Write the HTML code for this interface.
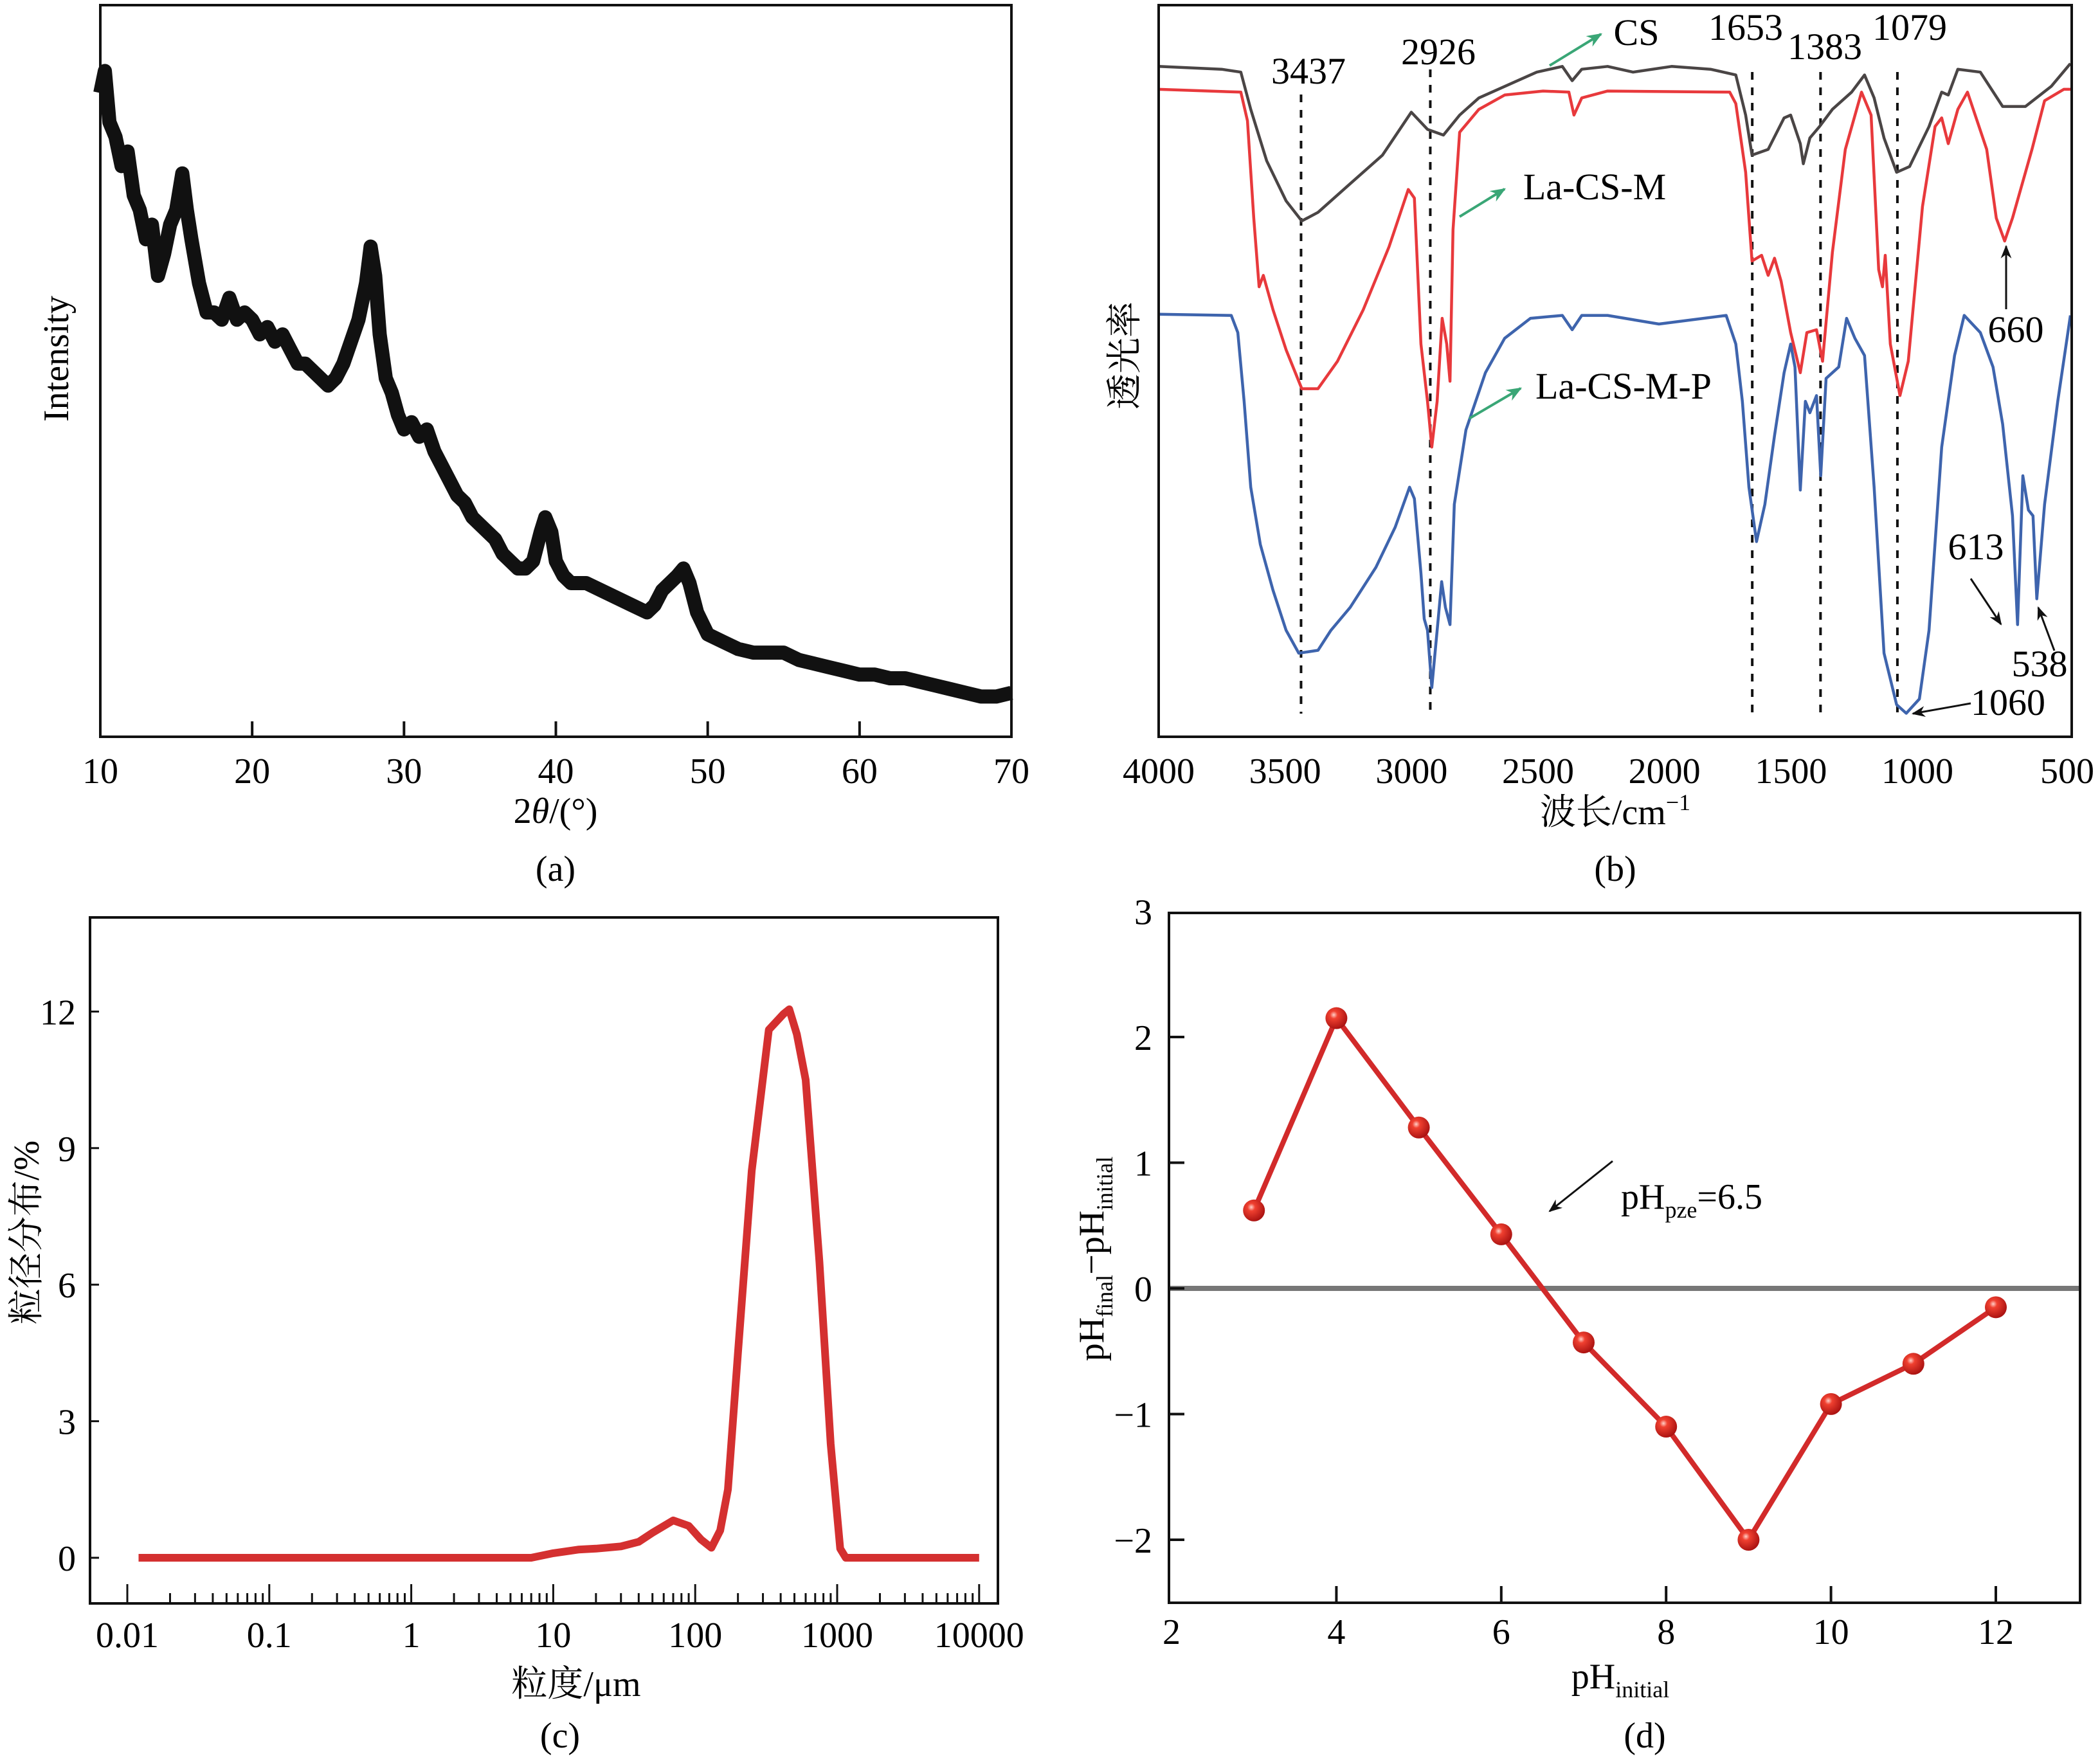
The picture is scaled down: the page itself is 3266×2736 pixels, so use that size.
<!DOCTYPE html>
<html><head><meta charset="utf-8"><style>
html,body{margin:0;padding:0;background:#fff;}
svg{display:block;font-family:"Liberation Serif","Noto Serif CJK SC",serif;}
</style></head><body>
<svg id="fig" width="3266" height="2736" viewBox="0 0 3266 2736" xmlns="http://www.w3.org/2000/svg">
<defs>
<radialGradient id="ball" cx="0.38" cy="0.35" r="0.7">
<stop offset="0" stop-color="#ffd0c8"/><stop offset="0.25" stop-color="#f04030"/><stop offset="1" stop-color="#a50f0f"/>
</radialGradient>
<marker id="ah" viewBox="0 0 10 10" refX="9" refY="5" markerWidth="7" markerHeight="7" orient="auto"><path d="M0,1 L10,5 L0,9 L3,5 z" fill="#111"/></marker>
<marker id="ahg" viewBox="0 0 10 10" refX="9" refY="5" markerWidth="6" markerHeight="6" orient="auto"><path d="M0,1 L10,5 L0,9 L3,5 z" fill="#3aa676"/></marker>
</defs>
<g id="pa"></g>
<g id="pb"></g>
<g id="pc"></g>
<g id="pd"></g>
</svg>
<script>
// ---------- Panel (a) data ----------
const xrdAngle=[10,10.3,10.6,11,11.4,11.8,12.2,12.6,13,13.4,13.8,14.2,14.6,15,15.4,15.7,16,16.5,17,17.5,18,18.5,19,19.5,20,20.5,21,21.5,22,22.5,23,23.5,24,24.5,25,25.5,26,26.5,27,27.5,27.8,28.1,28.4,28.8,29.2,29.6,30,30.5,31,31.5,32,32.5,33,33.5,34,34.5,35,35.5,36,36.5,37,37.5,38,38.5,39,39.3,39.7,40,40.5,41,42,43,44,45,46,46.5,47,47.5,48,48.4,48.8,49.3,50,51,52,53,54,55,56,57,58,59,60,61,62,63,64,65,66,67,68,69,70];
const xrdIntensity=[88,91,84,82,78,80,74,72,68,70,63,66,70,72,77,72,68,62,58,58,57,60,57,58,57,55,56,54,55,53,51,51,50,49,48,49,51,54,57,62,67,63,55,49,47,44,42,43,41,42,39,37,35,33,32,30,29,28,27,25,24,23,23,24,28,30,28,24,22,21,21,20,19,18,17,18,20,21,22,23,21,17,14,13,12,11.5,11.5,11.5,10.5,10,9.5,9,8.5,8.5,8,8,7.5,7,6.5,6,5.5,5.5,6];
const xrdTicks=[10,20,30,40,50,60,70];

// ---------- Panel (b) data ----------
const csWave=[4000,3751,3675,3636,3573,3496,3434,3370,3243,3115,3001,2937,2874,2810,2734,2632,2505,2404,2365,2327,2225,2124,1972,1818,1718,1679,1654,1590,1527,1501,1463,1451,1425,1387,1336,1260,1209,1171,1132,1082,1031,954,904,878,840,751,663,573,471,395];
const csT=[1171,1166,1161,1096,1006,936,901,916,966,1016,1091,1061,1051,1086,1116,1136,1161,1171,1146,1166,1171,1161,1171,1166,1156,1086,1016,1026,1081,1086,1036,1001,1046,1066,1096,1126,1156,1116,1046,986,996,1066,1126,1121,1166,1161,1101,1101,1136,1176];
const mWave=[4000,3675,3649,3624,3603,3586,3548,3496,3434,3370,3293,3191,3089,3013,2989,2963,2937,2920,2899,2879,2861,2848,2836,2810,2734,2632,2480,2378,2358,2327,2225,1742,1718,1679,1654,1616,1590,1565,1539,1501,1463,1437,1399,1375,1336,1285,1221,1183,1153,1138,1127,1107,1069,1036,980,930,904,878,840,802,726,688,655,624,547,497,421,395];
const mT=[1131,1126,1076,906,786,806,746,676,608,608,656,746,856,956,941,686,586,506,586,731,686,621,886,1056,1096,1121,1128,1126,1086,1116,1128,1126,1106,986,831,841,806,836,796,706,636,706,711,656,846,1026,1126,1086,816,786,841,686,596,656,926,1066,1081,1036,1096,1126,1026,906,866,906,1026,1111,1131,1131];
const pWave=[4000,3713,3687,3662,3636,3598,3548,3496,3446,3370,3319,3243,3141,3065,3008,2989,2963,2950,2937,2920,2899,2881,2866,2848,2831,2785,2708,2632,2530,2404,2365,2327,2225,2022,1756,1718,1692,1666,1636,1603,1565,1527,1501,1484,1463,1443,1425,1399,1382,1361,1311,1280,1247,1209,1171,1132,1082,1044,992,954,904,853,815,751,701,663,624,604,583,561,543,528,497,445,395];
const pT=[738,736,706,586,436,336,256,186,146,151,186,226,296,366,436,416,286,206,186,86,186,271,226,196,406,536,636,696,731,736,711,736,736,721,736,686,586,436,341,406,526,636,686,646,431,586,566,596,456,626,646,731,696,666,436,146,56,41,66,186,506,666,736,706,646,546,386,196,456,396,386,241,406,586,736];
const irPeaks=[3437,2926,1653,1383,1079];
const irTicks=[4000,3500,3000,2500,2000,1500,1000,500];

// ---------- Panel (c) data ----------
const psdSize=[0.012,0.1,1,7,10,15,20,30,40,50,70,90,110,130,150,170,200,250,330,420,460,520,600,750,900,1050,1150,2000,10000];
const psdPct=[0,0,0,0,0.1,0.18,0.2,0.25,0.35,0.55,0.82,0.7,0.4,0.22,0.6,1.5,4.5,8.5,11.6,11.95,12.05,11.5,10.5,6.5,2.5,0.2,0,0,0];
const psdYTicks=[0,3,6,9,12];
const psdXTicks=[0.01,0.1,1,10,100,1000,10000];
const psdXLabels=["0.01","0.1","1","10","100","1000","10000"];

// ---------- Panel (d) data ----------
const phInitial=[3,4,5,6,7,8,9,10,11,12];
const phDelta=[0.62,2.15,1.28,0.43,-0.43,-1.1,-2.0,-0.92,-0.6,-0.15];
const phXTicks=[2,4,6,8,10,12];
const phYTicks=[-2,-1,0,1,2,3];
const phYLabels=["\u22122","\u22121","0","1","2","3"];

const NS="http://www.w3.org/2000/svg";
function mk(parent,tag,attrs,text){const e=document.createElementNS(NS,tag);for(const k in attrs)e.setAttribute(k,attrs[k]);if(text!==undefined)e.textContent=text;parent.appendChild(e);return e;}
function line(p){return p.map((q,i)=>(i?"L":"M")+q[0].toFixed(1)+","+q[1].toFixed(1)).join(" ");}

// ===== Panel A =====
(function(){
const g=document.getElementById('pa');
const L=156,R=1573,T=8,B=1146;
const X=v=>L+(v-10)/60*(R-L), Y=v=>B-v/100*(B-T);
let e=mk(g,'path',{d:line(xrdAngle.map((a,i)=>[X(a),Y(xrdIntensity[i])])),fill:'none',stroke:'#111','stroke-width':22,'stroke-linejoin':'round'});


e=mk(g,'rect',{x:L,y:T,width:R-L,height:B-T,fill:'none',stroke:'#111','stroke-width':4});


xrdTicks.forEach(t=>{
 const x=X(t);
 if(t>10&&t<70){const tk=mk(g,'line',{x1:x,y1:B,x2:x,y2:B-24,stroke:'#111','stroke-width':4});
 
 }
 const lb=mk(g,'text',{x:x,y:1218,'font-size':56,'text-anchor':'middle'},String(t));
 
 
});
e=mk(g,'text',{x:864,y:1280,'font-size':56,'text-anchor':'middle'});
e.innerHTML='2<tspan font-style="italic">θ</tspan>/(°)';


e=mk(g,'text',{x:106,y:558,'font-size':56,'text-anchor':'middle',transform:'rotate(-90 106 558)'},'Intensity');


e=mk(g,'text',{x:864,y:1370,'font-size':56,'text-anchor':'middle'},'(a)');


})();

// ===== Panel B =====
(function(){
const g=document.getElementById('pb');
const L=1802,R=3222,T=8,B=1146;
const X=w=>L+(4000-w)*1180/3000, Y=v=>B-v/1278*(B-T);
irPeaks.forEach((w,i)=>{
 const top=[147,108,112,112,112][i];
 const d=mk(g,'line',{x1:X(w),y1:top,x2:X(w),y2:1110,stroke:'#111','stroke-width':4,'stroke-dasharray':'12,12'});
 
 
});
const series=[[csWave,csT,'#4a4545','cs-spectrum'],[mWave,mT,'#e8393c','la-cs-m-spectrum'],[pWave,pT,'#3e64ad','la-cs-m-p-spectrum']];
series.forEach(s=>{
 const p=mk(g,'path',{d:line(s[0].map((w,i)=>[X(w),Y(s[1][i])])),fill:'none',stroke:s[2],'stroke-width':4.5,'stroke-linejoin':'round'});
 
 
});
let e=mk(g,'rect',{x:L,y:T,width:R-L,height:B-T,fill:'none',stroke:'#111','stroke-width':4});


irTicks.forEach(t=>{
 const lx=t===500?3215:X(t);
 const lb=mk(g,'text',{x:lx,y:1218,'font-size':56,'text-anchor':'middle'},String(t));
 
 
});
e=mk(g,'text',{x:2512,y:1282,'font-size':56,'text-anchor':'middle'});
e.innerHTML='波长/cm<tspan dy="-22" font-size="36">−1</tspan>';


e=mk(g,'text',{x:1768,y:553,'font-size':56,'text-anchor':'middle',transform:'rotate(-90 1768 553)'},'透光率');


e=mk(g,'text',{x:2512,y:1370,'font-size':56,'text-anchor':'middle'},'(b)');


const labels=[['3437',2035,130],['2926',2237,100],['CS',2545,70],['1653',2715,62],['1383',2838,92],['1079',2970,62],['La-CS-M',2480,310],['La-CS-M-P',2525,620],['660',3135,532],['613',3073,870],['538',3172,1052],['1060',3123,1112]];
labels.forEach(l=>{
 const t=mk(g,'text',{x:l[1],y:l[2],'font-size':58,'text-anchor':'middle'},l[0]);
 
 
});
const garrows=[[2410,102,2490,53],[2270,337,2340,294],[2285,651,2365,604]];
garrows.forEach(a=>{
 const t=mk(g,'line',{x1:a[0],y1:a[1],x2:a[2],y2:a[3],stroke:'#3aa676','stroke-width':4,'marker-end':'url(#ahg)'});
 
 
});
const barrows=[[3120,481,3120,383],[3065,900,3112,971],[3195,1012,3170,945],[3065,1094,2975,1110]];
barrows.forEach(a=>{
 const t=mk(g,'line',{x1:a[0],y1:a[1],x2:a[2],y2:a[3],stroke:'#111','stroke-width':3,'marker-end':'url(#ah)'});
 
 
});
})();

// ===== Panel C =====
(function(){
const g=document.getElementById('pc');
const L=140,R=1552,T=1427,B=2494;
const X=v=>198+(Math.log10(v)+2)*220.8, Y=v=>2423-v*70.8;
let e=mk(g,'path',{d:line(psdSize.map((s,i)=>[X(s),Y(psdPct[i])])),fill:'none',stroke:'#d43030','stroke-width':12,'stroke-linejoin':'round'});


e=mk(g,'rect',{x:L,y:T,width:R-L,height:B-T,fill:'none',stroke:'#111','stroke-width':4});


psdYTicks.forEach(t=>{
 const tk=mk(g,'line',{x1:L,y1:Y(t),x2:L+14,y2:Y(t),stroke:'#111','stroke-width':3});
 
 
 const lb=mk(g,'text',{x:118,y:Y(t)+20,'font-size':56,'text-anchor':'end'},String(t));
 
 
});
for(let d=-2;d<=4;d++){for(let m=1;m<10;m++){const v=m*Math.pow(10,d);if(v>10000)break;const x=X(v);if(x<L)continue;
 const tk=mk(g,'line',{x1:x,y1:B,x2:x,y2:B-(m==1?30:16),stroke:'#111','stroke-width':3});
 
 }}
psdXTicks.forEach((t,i)=>{
 const lb=mk(g,'text',{x:X(t),y:2562,'font-size':56,'text-anchor':'middle'},psdXLabels[i]);
 
 
});
e=mk(g,'text',{x:896,y:2638,'font-size':56,'text-anchor':'middle'},'粒度/μm');


e=mk(g,'text',{x:60,y:1917,'font-size':56,'text-anchor':'middle',transform:'rotate(-90 60 1917)'},'粒径分布/%');


e=mk(g,'text',{x:871,y:2718,'font-size':56,'text-anchor':'middle'},'(c)');


})();

// ===== Panel D =====
(function(){
const g=document.getElementById('pd');
const L=1818,R=3235,T=1420,B=2493;
const X=v=>1822+(v-2)*128.2, Y=v=>2004-v*195.5;
let e=mk(g,'line',{x1:L,y1:Y(0),x2:R,y2:Y(0),stroke:'#777','stroke-width':8});


e=mk(g,'path',{d:line(phInitial.map((p,i)=>[X(p),Y(phDelta[i])])),fill:'none',stroke:'#d22a2a','stroke-width':8});


phInitial.forEach((p,i)=>{
 const c=mk(g,'circle',{cx:X(p),cy:Y(phDelta[i]),r:17,fill:'url(#ball)'});
 
 
});
e=mk(g,'path',{d:'M'+L+','+T+' H'+R+' V'+B+' H'+L+' Z',fill:'none',stroke:'#111','stroke-width':4});


phXTicks.forEach(t=>{
 if(t>2){const tk=mk(g,'line',{x1:X(t),y1:B,x2:X(t),y2:B-26,stroke:'#111','stroke-width':4});
 
 }
 const lb=mk(g,'text',{x:X(t),y:2557,'font-size':56,'text-anchor':'middle'},String(t));
 
 
});
phYTicks.forEach((t,i)=>{
 if(t<3){const tk=mk(g,'line',{x1:L,y1:Y(t),x2:L+24,y2:Y(t),stroke:'#111','stroke-width':4});
 
 }
 const lb=mk(g,'text',{x:1792,y:Y(t)+20,'font-size':56,'text-anchor':'end'},phYLabels[i]);
 
 
});
e=mk(g,'text',{x:2521,y:1880,'font-size':56});
e.innerHTML='pH<tspan dy="14" font-size="36">pze</tspan><tspan dy="-14">=6.5</tspan>';


e=mk(g,'line',{x1:2508,y1:1806,x2:2410,y2:1884,stroke:'#111','stroke-width':3,'marker-end':'url(#ah)'});


e=mk(g,'text',{x:2520,y:2626,'font-size':56,'text-anchor':'middle'});
e.innerHTML='pH<tspan dy="14" font-size="36">initial</tspan>';


e=mk(g,'text',{x:1716,y:1958,'font-size':56,'text-anchor':'middle',transform:'rotate(-90 1716 1958)'});
e.innerHTML='pH<tspan dy="14" font-size="36">final</tspan><tspan dy="-14">−pH</tspan><tspan dy="14" font-size="36">initial</tspan>';


e=mk(g,'text',{x:2558,y:2718,'font-size':56,'text-anchor':'middle'},'(d)');


})();
</script>
</body></html>
